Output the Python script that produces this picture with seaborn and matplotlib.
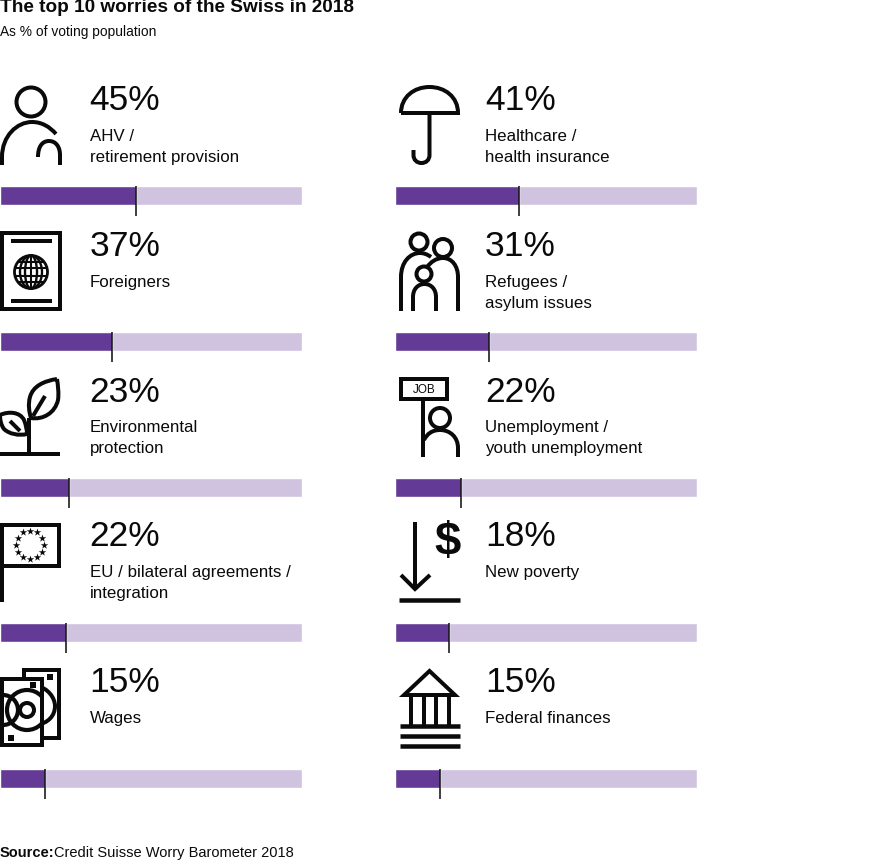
import numpy as np
import pandas as pd
import matplotlib
matplotlib.use("Agg")
import matplotlib.pyplot as plt
import seaborn as sns
from matplotlib.patches import Circle, Ellipse, Rectangle, PathPatch, Polygon
from matplotlib.path import Path

categories = ["AHV /\nretirement provision", "Healthcare /\nhealth insurance", "Foreigners",
              "Refugees /\nasylum issues", "Environmental\nprotection",
              "Unemployment /\nyouth unemployment", "EU / bilateral agreements /\nintegration",
              "New poverty", "Wages", "Federal finances"]
values = [45, 41, 37, 31, 23, 22, 22, 18, 15, 15]
scale_max = 100
title = "The top 10 worries of the Swiss in 2018"
subtitle = "As % of voting population"

W, H = 876, 865
DARK, LIGHT, INK = "#633B96", "#CFC3DF", "#0A0A0A"
FONT = "Liberation Sans"
sns.set_theme(style="white", rc={"font.family": FONT})

fig = plt.figure(figsize=(W / 100, H / 100), dpi=100, facecolor="white")
cv = fig.add_axes([0, 0, 1, 1])
cv.set_xlim(0, W)
cv.set_ylim(H, 0)
cv.axis("off")

LW = 4 * 0.72


def line(*pts, lw=LW, cap="butt", join="miter"):
    xs, ys = zip(*pts)
    cv.plot(xs, ys, color=INK, lw=lw, solid_capstyle=cap, solid_joinstyle=join)


def curve(start, *segs, lw=LW, fc="none", clip=None):
    verts, codes = [start], [Path.MOVETO]
    for s in segs:
        if len(s) == 3:
            verts += list(s)
            codes += [Path.CURVE4] * 3
        else:
            verts.append(s[0])
            codes.append(Path.LINETO)
    p = PathPatch(Path(verts, codes), fc=fc, ec=INK, lw=lw, capstyle="butt")
    cv.add_patch(p)
    if clip is not None:
        p.set_clip_path(clip)
    return p


def circ(x, y, r, lw=LW, fc="white", clip=None):
    p = Circle((x, y), r, fc=fc, ec=INK, lw=lw)
    cv.add_patch(p)
    if clip is not None:
        p.set_clip_path(clip)
    return p


def rect(x0, y0, x1, y1, lw=LW, fc="white"):
    p = Rectangle((x0, y0), x1 - x0, y1 - y0, fc=fc, ec=INK, lw=lw, joinstyle="miter")
    cv.add_patch(p)
    return p


def icon_person():
    circ(31, 102, 14.5)
    curve((2, 165), [(2, 157)], ((2, 136), (17, 122), (32, 122)), ((42, 122), (50, 127), (56, 134)))
    curve((38, 157), ((38, 147), (42, 141), (49, 141)), ((56, 141), (60, 147), (60, 155)), [(60, 165)])


def icon_passport():
    rect(2, 233, 59.5, 309)
    line((11, 241), (52, 241))
    line((11, 301), (52, 301))
    cx, cy, r = 31, 272, 16.5
    cv.add_patch(Circle((cx, cy), r, fc="white", ec=INK, lw=2.8 * 0.72))
    for w in (6, 11):
        cv.add_patch(Ellipse((cx, cy), w * 2, r * 2, fc="none", ec=INK, lw=1.7))
    line((cx, cy - r), (cx, cy + r), lw=1.5)
    for dy in (-10, -4, 4, 10):
        hw = np.sqrt(r ** 2 - dy ** 2)
        line((cx - hw, cy + dy), (cx + hw, cy + dy), lw=1.5)


def icon_umbrella():
    curve((401, 113), ((401, 97), (414, 87), (429.5, 87)), ((445, 87), (458, 97), (458, 113)), [(401, 113)])
    curve((429.5, 113), [(429.5, 155)], ((429.5, 160), (426, 163), (421.5, 163)),
          ((417, 163), (413.5, 160), (413.5, 155)), [(413.5, 150)])


def icon_family():
    circ(419, 242, 8.5)
    circ(443, 248, 9)
    circ(424, 274, 7.5)
    curve((401, 311), [(401, 277)], ((401, 262), (410, 253), (420, 253)), ((423, 253), (427, 254), (431, 257)))
    curve((458, 311), [(458, 277)], ((458, 266), (452, 258), (443, 258)), ((436, 258), (431, 262), (427, 267)))
    curve((413, 311), [(413, 297)], ((413, 289), (418, 284), (424.5, 284)), ((431, 284), (436, 289), (436, 297)), [(436, 311)])


def icon_plant():
    line((0, 454), (60, 454))
    line((29, 454), (29, 418))
    curve((57, 379), ((44, 381), (33, 386), (30, 397)), ((28, 404), (29, 412), (31, 418)),
          ((43, 420), (55, 413), (58, 400)), ((59, 393), (58, 386), (57, 379)))
    line((33, 416), (45, 396))
    curve((0, 415), ((9, 411), (20, 412), (24, 420)), ((26, 425), (27, 430), (27, 434)),
          ((19, 436), (9, 434), (4, 429)), ((1, 425), (0, 420), (0, 415)))
    line((10, 421), (20, 431))


def icon_flag():
    rect(2, 525, 58.5, 566)
    line((1.5, 523), (1.5, 602))
    a = np.deg2rad(np.arange(0, 360, 30))
    cv.scatter(30 + 14 * np.cos(a), 544.5 + 14 * np.sin(a), marker="*", s=32, color=INK, linewidths=0, zorder=3)


def icon_job():
    rect(401, 379, 447, 399)
    cv.text(424, 390, "JOB", ha="center", va="center", fontsize=8.5, color=INK, family=FONT)
    line((423, 400), (423, 457))
    circ(440, 418, 10)
    curve((458, 457), [(458, 448)], ((458, 437), (450, 430), (440, 430)), ((432, 430), (427, 434), (424, 440)))


def icon_poverty():
    line((415, 522), (415, 590))
    line((401, 575), (415, 589), (430, 575))
    line((399, 599.5), (459.5, 599.5), lw=4.5 * 0.72)
    cv.text(448, 543, "$", ha="center", va="center", fontsize=34, fontweight="bold", color=INK, family=FONT)


def icon_money():
    rect(24, 670, 59, 738)
    curve((37, 686), ((48, 688), (55, 698), (55, 706)), ((55, 716), (48, 723), (37, 725)))
    cv.add_patch(Rectangle((47, 674), 6, 6, fc=INK, ec="none"))
    front = rect(2, 679, 41.5, 745)
    circ(27, 710, 7, fc="none")
    circ(27, 710, 20, lw=3, fc="none", clip=front)
    circ(3, 710, 15, lw=3, fc="none", clip=front)
    cv.add_patch(Rectangle((30, 682), 6, 6, fc=INK, ec="none"))
    cv.add_patch(Rectangle((8, 735), 6, 6, fc=INK, ec="none"))


def icon_bank():
    cv.add_patch(Polygon([(429.5, 671), (404, 695), (455, 695)], closed=True, fc="none", ec=INK, lw=LW, joinstyle="miter"))
    for x in (411, 424, 436, 449):
        line((x, 696), (x, 725))
    for y in (726, 736, 746):
        line((400, y), (460, y), lw=4.5 * 0.72)


icons = [icon_person, icon_umbrella, icon_passport, icon_family, icon_plant,
         icon_job, icon_flag, icon_poverty, icon_money, icon_bank]
bar_tops = [186, 332, 478, 623, 769]
text_tops = [101, 247, 392, 537, 683]
col_x = [(0, 301.5), (395, 697)]
txt_x = [89.5, 485]

cv.text(0, 8, title, fontsize=13.7, fontweight="bold", va="center", color=INK, family=FONT)
cv.text(0, 32, subtitle, fontsize=9.9, va="center", color=INK, family=FONT)
cv.text(0, 853, "Source:", fontsize=10.5, fontweight="bold", va="center", color=INK, family=FONT)
cv.text(54.5, 853, "Credit Suisse Worry Barometer 2018", fontsize=10.5, va="center", color=INK, family=FONT)

for i, (cat, val, draw) in enumerate(zip(categories, values, icons)):
    row, col = i // 2, i % 2
    draw()
    x0, x1 = col_x[col]
    top = bar_tops[row]
    ax = fig.add_axes([x0 / W, 1 - (top + 19) / H, (x1 - x0) / W, 19 / H])
    df = pd.DataFrame({"worry": [cat], "share": [val], "full": [scale_max]})
    sns.barplot(data=df, x="full", y="worry", color=LIGHT, width=1, saturation=1, ax=ax)
    sns.barplot(data=df, x="share", y="worry", color=DARK, width=1, saturation=1, ax=ax)
    ax.set_xlim(0, scale_max)
    ax.set_ylim(0.5, -0.5)
    ax.vlines(val, -0.5, 0.5 + 11 / 19, color=INK, lw=1.1, clip_on=False, zorder=5)
    ax.axis("off")
    ax.patch.set_alpha(0)
    tx = txt_x[col]
    cv.text(tx, text_tops[row], f"{val}%", fontsize=25.5, va="center", color=INK, family=FONT)
    lines = cat.split("\n")
    for j, t in enumerate(lines):
        cv.text(tx, text_tops[row] + 35.5 + 21 * j, t, fontsize=12.2, va="center", color=INK, family=FONT)

fig.savefig("out.png", dpi=100, facecolor="white")
